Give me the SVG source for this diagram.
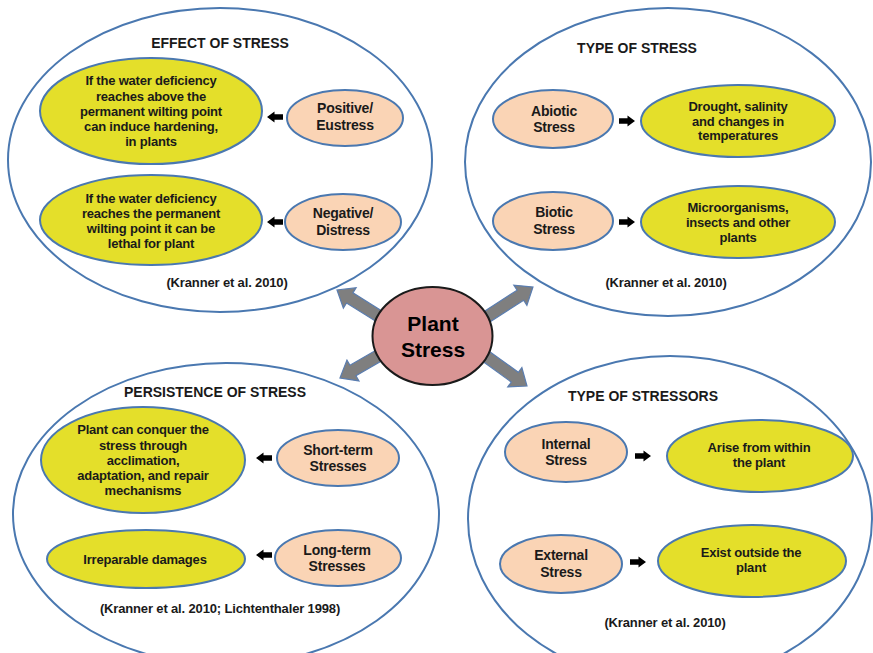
<svg xmlns="http://www.w3.org/2000/svg" xmlns:xlink="http://www.w3.org/1999/xlink" width="873" height="653" viewBox="0 0 873 653">
  <style>
    .frame { fill: #ffffff; stroke: #4a78b0; stroke-width: 2; }
    .cause { fill: #fad4b5; stroke: #4a78b0; stroke-width: 2; }
    .result { fill: #e4df2a; stroke: #4a78b0; stroke-width: 2; }
    .hub { fill: #d99594; stroke: #1a1a1a; stroke-width: 2; }
    .big-arrow { fill: #7f7f7f; stroke: #5a7db0; stroke-width: 1.2; }
    .small-arrow { fill: #000000; }
    text { font-family: "Liberation Sans", Arial, sans-serif; font-weight: bold; fill: #1a1a1a; text-anchor: middle; }
    .title { font-size: 14px; }
    .body { font-size: 13px; letter-spacing: -0.2px; }
    .label { font-size: 14px; letter-spacing: -0.2px; }
    .cite { font-size: 13px; letter-spacing: -0.15px; }
    .hub-text { font-size: 21px; fill: #000000; }
  </style>
  <defs>
    <!-- small block arrow pointing right, centred on the origin -->
    <path id="blk" class="small-arrow" d="M-8,-2.8 H0.5 V-5.5 L8,0 L0.5,5.5 V2.8 H-8 Z"/>
  </defs>

  <rect width="873" height="653" fill="#ffffff"/>

  <!-- quadrant frames -->
  <g id="effect-of-stress">
    <ellipse class="frame" cx="220" cy="160" rx="212" ry="152"/>
    <text class="title" x="220" y="48">EFFECT OF STRESS</text>
    <text class="cite" x="227" y="287">(Kranner et al. 2010)</text>
  </g>
  <g id="type-of-stress">
    <ellipse class="frame" cx="668" cy="162" rx="203" ry="154"/>
    <text class="title" x="637" y="53">TYPE OF STRESS</text>
    <text class="cite" x="666" y="287">(Kranner et al. 2010)</text>
  </g>
  <g id="persistence-of-stress">
    <ellipse class="frame" cx="226" cy="514" rx="213" ry="151"/>
    <text class="title" x="215" y="397">PERSISTENCE OF STRESS</text>
    <text class="cite" x="220" y="613">(Kranner et al. 2010; Lichtenthaler 1998)</text>
  </g>
  <g id="type-of-stressors">
    <ellipse class="frame" cx="670" cy="519" rx="202" ry="163"/>
    <text class="title" x="643" y="401">TYPE OF STRESSORS</text>
    <text class="cite" x="665" y="627">(Kranner et al. 2010)</text>
  </g>

  <!-- effect of stress -->
  <g id="hardening">
    <ellipse class="result" cx="151" cy="111" rx="111" ry="53"/>
    <text class="body" x="151" y="85">If the water deficiency</text>
    <text class="body" x="151" y="100.5">reaches above the</text>
    <text class="body" x="151" y="116">permanent wilting point</text>
    <text class="body" x="151" y="131">can induce hardening,</text>
    <text class="body" x="151" y="146">in plants</text>
  </g>
  <g id="eustress">
    <ellipse class="cause" cx="345" cy="118" rx="58" ry="28"/>
    <text class="label" x="345" y="113">Positive/</text>
    <text class="label" x="345" y="130">Eustress</text>
  </g>
  <g id="lethal">
    <ellipse class="result" cx="151" cy="220" rx="111" ry="45"/>
    <text class="body" x="151" y="203">If the water deficiency</text>
    <text class="body" x="151" y="218">reaches the permanent</text>
    <text class="body" x="151" y="233">wilting point it can be</text>
    <text class="body" x="151" y="248">lethal for plant</text>
  </g>
  <g id="distress">
    <ellipse class="cause" cx="343" cy="222" rx="58" ry="28"/>
    <text class="label" x="343" y="218">Negative/</text>
    <text class="label" x="343" y="235">Distress</text>
  </g>

  <!-- type of stress -->
  <g id="abiotic">
    <ellipse class="cause" cx="553" cy="119" rx="60" ry="29"/>
    <text class="label" x="554" y="116">Abiotic</text>
    <text class="label" x="554" y="132">Stress</text>
  </g>
  <g id="abiotic-examples">
    <ellipse class="result" cx="738" cy="121" rx="97" ry="36"/>
    <text class="body" x="738" y="111">Drought, salinity</text>
    <text class="body" x="738" y="125.5">and changes in</text>
    <text class="body" x="738" y="140">temperatures</text>
  </g>
  <g id="biotic">
    <ellipse class="cause" cx="553" cy="221" rx="60" ry="29"/>
    <text class="label" x="554" y="217">Biotic</text>
    <text class="label" x="554" y="234">Stress</text>
  </g>
  <g id="biotic-examples">
    <ellipse class="result" cx="738" cy="222" rx="97" ry="36"/>
    <text class="body" x="738" y="212">Microorganisms,</text>
    <text class="body" x="738" y="227">insects and other</text>
    <text class="body" x="738" y="242">plants</text>
  </g>

  <!-- persistence of stress -->
  <g id="conquer">
    <ellipse class="result" cx="143" cy="460" rx="102" ry="53"/>
    <text class="body" x="143" y="434">Plant can conquer the</text>
    <text class="body" x="143" y="449.5">stress through</text>
    <text class="body" x="143" y="464.5">acclimation,</text>
    <text class="body" x="143" y="479.5">adaptation, and repair</text>
    <text class="body" x="143" y="494.5">mechanisms</text>
  </g>
  <g id="short-term">
    <ellipse class="cause" cx="338" cy="458" rx="61" ry="28"/>
    <text class="label" x="338" y="455">Short-term</text>
    <text class="label" x="338" y="471">Stresses</text>
  </g>
  <g id="irreparable">
    <ellipse class="result" cx="146" cy="559" rx="99" ry="29"/>
    <text class="body" x="145" y="564">Irreparable damages</text>
  </g>
  <g id="long-term">
    <ellipse class="cause" cx="338" cy="558" rx="63" ry="28"/>
    <text class="label" x="337" y="555">Long-term</text>
    <text class="label" x="337" y="571">Stresses</text>
  </g>

  <!-- type of stressors -->
  <g id="internal">
    <ellipse class="cause" cx="566" cy="452" rx="61" ry="30"/>
    <text class="label" x="566" y="449">Internal</text>
    <text class="label" x="566" y="465">Stress</text>
  </g>
  <g id="internal-origin">
    <ellipse class="result" cx="760" cy="456" rx="93" ry="36"/>
    <text class="body" x="759" y="452">Arise from within</text>
    <text class="body" x="759" y="467">the plant</text>
  </g>
  <g id="external">
    <ellipse class="cause" cx="561" cy="564" rx="61" ry="29"/>
    <text class="label" x="561" y="560">External</text>
    <text class="label" x="561" y="577">Stress</text>
  </g>
  <g id="external-origin">
    <ellipse class="result" cx="752" cy="561" rx="94" ry="36"/>
    <text class="body" x="751" y="557">Exist outside the</text>
    <text class="body" x="751" y="572">plant</text>
  </g>

  <!-- connectors -->
  <g id="connectors">
    <use xlink:href="#blk" href="#blk" transform="translate(275,117) scale(-1,1)"/>
    <use xlink:href="#blk" href="#blk" transform="translate(275,222) scale(-1,1)"/>
    <use xlink:href="#blk" href="#blk" transform="translate(627,121)"/>
    <use xlink:href="#blk" href="#blk" transform="translate(627,222)"/>
    <use xlink:href="#blk" href="#blk" transform="translate(264,458) scale(-1,1)"/>
    <use xlink:href="#blk" href="#blk" transform="translate(264,555) scale(-1,1)"/>
    <use xlink:href="#blk" href="#blk" transform="translate(643,456)"/>
    <use xlink:href="#blk" href="#blk" transform="translate(638,562)"/>

    <path class="big-arrow" transform="translate(385,320) rotate(-148)" d="M0,-6 H41.6 V-12 L56.6,0 L41.6,12 V6 H0 Z"/>
    <path class="big-arrow" transform="translate(482,320) rotate(-32.9)" d="M0,-6 H45.7 V-12 L60.7,0 L45.7,12 V6 H0 Z"/>
    <path class="big-arrow" transform="translate(385,352) rotate(150)" d="M0,-6 H37 V-12 L52,0 L37,12 V6 H0 Z"/>
    <path class="big-arrow" transform="translate(480,352) rotate(35.9)" d="M0,-6 H43 V-12 L58,0 L43,12 V6 H0 Z"/>
  </g>

  <!-- central node -->
  <g id="plant-stress">
    <ellipse class="hub" cx="432.5" cy="336" rx="60" ry="49"/>
    <text class="hub-text" x="433" y="331">Plant</text>
    <text class="hub-text" x="433" y="357">Stress</text>
  </g>
</svg>
